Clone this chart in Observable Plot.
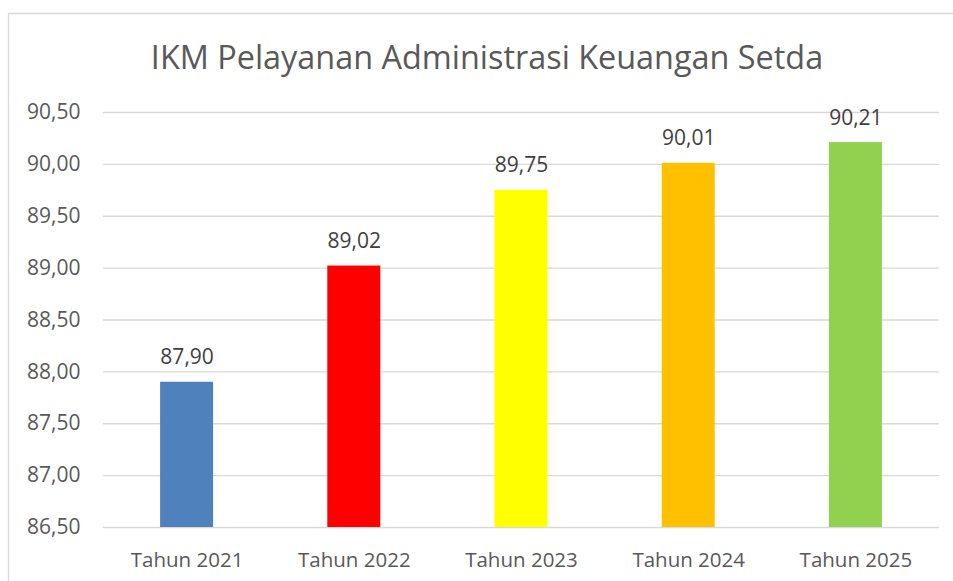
<!DOCTYPE html>
<html><head><meta charset="utf-8">
<script src="https://cdn.jsdelivr.net/npm/d3@7"></script>
<script src="https://cdn.jsdelivr.net/npm/@observablehq/plot@0.6"></script>
<style>
body{margin:0;background:#fff;}
#chart{position:absolute;left:0;top:0;width:953px;height:581px;overflow:hidden;}
</style>
</head><body>
<div id="chart"></div>
<script>
const title = "IKM Pelayanan Administrasi Keuangan Setda";
const categories = ["Tahun 2021", "Tahun 2022", "Tahun 2023", "Tahun 2024", "Tahun 2025"];
const values = [87.90, 89.02, 89.75, 90.01, 90.21];
const barColors = ["#4F81BD", "#FF0000", "#FFFF00", "#FFC000", "#92D050"];
const yTicks = [86.5, 87.0, 87.5, 88.0, 88.5, 89.0, 89.5, 90.0, 90.5];

const data = categories.map((c, i) => ({cat: c, value: values[i]}));
const fmt = d => d.toFixed(2).replace(".", ",");
const font = "Open Sans";

const chart = Plot.plot({
  width: 953,
  height: 581,
  marginTop: 112,
  marginBottom: 54,
  marginLeft: 103,
  marginRight: 14,
  style: {fontFamily: font, background: "transparent", overflow: "visible"},
  x: {domain: categories, paddingInner: 0.683, paddingOuter: 0.3415, round: false, label: null},
  y: {domain: [86.5, 90.5], label: null},
  color: {domain: categories, range: barColors},
  marks: [
    Plot.gridY(yTicks, {stroke: "#d9d9d9", strokeOpacity: 1, strokeWidth: 1.3}),
    Plot.barY(data, {x: "cat", y1: 86.5, y2: "value", fill: "cat"}),
    Plot.text(data, {x: "cat", y: "value", text: d => fmt(d.value), dy: -18, lineAnchor: "bottom",
      fill: "#404040", fontSize: 21, fontFamily: font}),
    Plot.axisY(yTicks, {tickSize: 0, tickPadding: 23, tickFormat: fmt, fontSize: 21, color: "#595959", fontFamily: font}),
    Plot.axisX({tickSize: 0, tickPadding: 25, fontSize: 20.5, color: "#595959", fontFamily: font})
  ]
});

const svg = d3.select(chart);
svg.insert("path", ":first-child")
  .attr("d", "M8.5,600V13.5H960")
  .attr("fill", "none")
  .attr("stroke", "#d9d9d9")
  .attr("stroke-width", 1.3);
svg.append("text")
  .attr("x", 487)
  .attr("y", 69)
  .attr("text-anchor", "middle")
  .attr("fill", "#595959")
  .style("font-family", font)
  .style("font-size", "32.4px")
  .text(title);

document.getElementById("chart").appendChild(chart);
</script>
</body></html>
